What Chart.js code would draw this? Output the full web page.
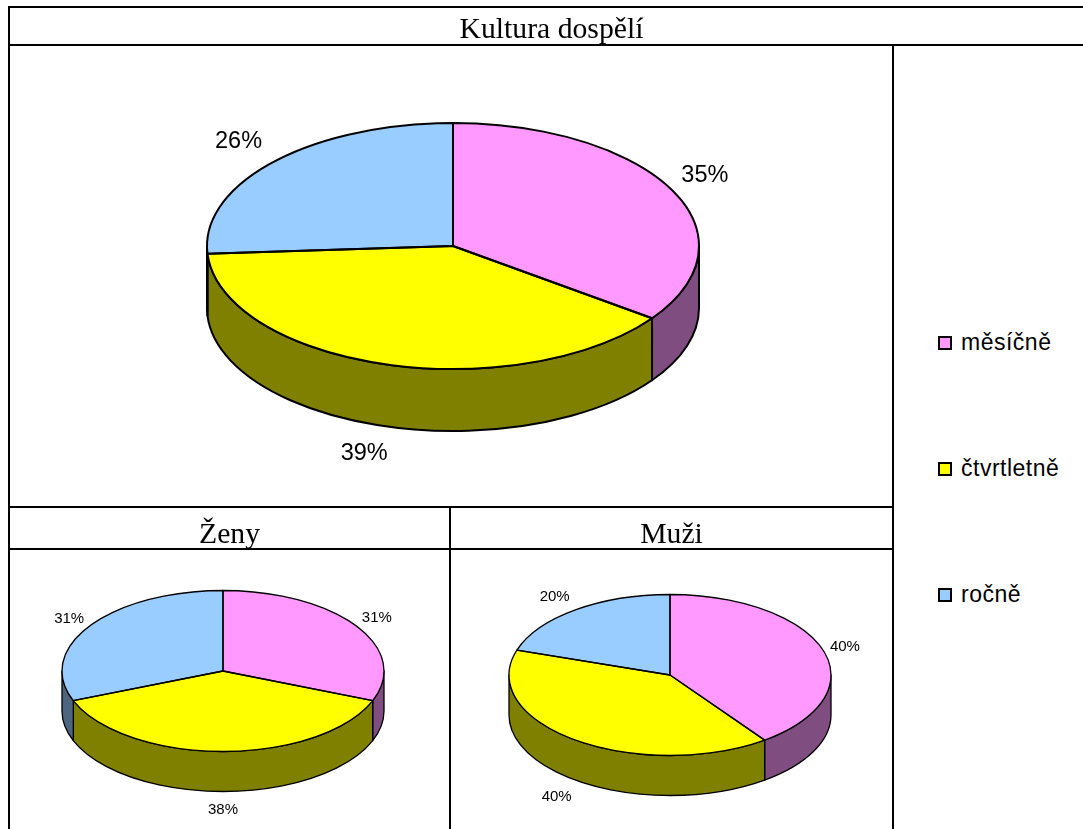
<!DOCTYPE html>
<html lang="cs">
<head>
<meta charset="utf-8">
<title>Kultura dospělí</title>
<script src="https://cdn.jsdelivr.net/npm/chart.js@4"></script>
<style>
html,body{margin:0;padding:0;background:#fff;}
body{position:relative;width:1083px;height:829px;overflow:hidden;}
canvas{position:absolute;display:block;}
.ln{position:absolute;background:#000;z-index:3;}
.ttl{position:absolute;font-family:"Liberation Serif",serif;font-size:29.7px;line-height:34px;text-align:center;color:#000;white-space:nowrap;z-index:4;}
.lg{position:absolute;left:938px;font-family:"Liberation Sans",sans-serif;font-size:23px;line-height:26px;letter-spacing:.5px;color:#000;white-space:nowrap;z-index:4;}
.lg i{display:inline-block;width:10px;height:10px;border:2px solid #000;position:absolute;left:0;top:7px;}
.lg span{position:absolute;left:23px;top:0;}
</style>
</head>
<body>
<div class="ln" style="left:8px;top:6px;width:1075px;height:2px"></div>
<div class="ln" style="left:8px;top:44px;width:1075px;height:2px"></div>
<div class="ln" style="left:8px;top:6px;width:2px;height:823px"></div>
<div class="ln" style="left:892px;top:44px;width:2px;height:785px"></div>
<div class="ln" style="left:8px;top:506px;width:884px;height:2px"></div>
<div class="ln" style="left:8px;top:548px;width:884px;height:2px"></div>
<div class="ln" style="left:449px;top:506px;width:2px;height:323px"></div>
<div class="ttl" id="t0" style="left:10px;width:1083px;top:11px"></div>
<div class="ttl" id="t1" style="left:10px;width:439px;top:516px"></div>
<div class="ttl" id="t2" style="left:451px;width:441px;top:516px"></div>

<canvas id="c0" width="600" height="492" style="left:153px;top:0"></canvas>
<canvas id="c1" width="420" height="322" style="left:13px;top:510px"></canvas>
<canvas id="c2" width="420" height="322" style="left:460px;top:514px"></canvas>

<script>
const categories = ['měsíčně', 'čtvrtletně', 'ročně'];
const dospeliValues = [35, 39, 26];
const zenyValues = [31, 38, 31];
const muziValues = [40, 40, 20];
const titles = ['Kultura dospělí', 'Ženy', 'Muži'];
const faceColors = ['#FF99FF', '#FFFF00', '#99CCFF'];
const wallColors = ['#804D80', '#808000', '#4D6680'];

const squash = 0.5;

const pie3d = {
  id: 'pie3d',
  beforeDatasetsDraw(chart, args, o) {
    const ctx = chart.ctx;
    const arcs = chart.getDatasetMeta(0).data;
    ctx.save();
    ctx.lineWidth = o.line;
    ctx.strokeStyle = '#000';
    ctx.lineJoin = 'round';
    arcs.forEach((el, i) => {
      const a = Math.max(el.startAngle, 0), b = Math.min(el.endAngle, Math.PI);
      if (b <= a) return;
      const rx = el.outerRadius, ry = rx * squash;
      ctx.beginPath();
      ctx.ellipse(el.x, el.y, rx, ry, 0, a, b);
      ctx.ellipse(el.x, el.y + o.depth, rx, ry, 0, b, a, true);
      ctx.closePath();
      ctx.fillStyle = wallColors[i];
      ctx.fill();
      ctx.stroke();
    });
    ctx.restore();
    const c = arcs[0];
    ctx.save();
    ctx.translate(c.x, c.y);
    ctx.scale(1, squash);
    ctx.translate(-c.x, -c.y);
  },
  afterDatasetsDraw(chart, args, o) {
    const ctx = chart.ctx;
    ctx.restore();
    const arcs = chart.getDatasetMeta(0).data;
    const vals = chart.data.datasets[0].data;
    ctx.save();
    ctx.lineWidth = o.line;
    ctx.strokeStyle = '#000';
    ctx.lineJoin = 'round';
    arcs.forEach(el => {
      const rx = el.outerRadius, ry = rx * squash;
      ctx.beginPath();
      ctx.moveTo(el.x, el.y);
      ctx.ellipse(el.x, el.y, rx, ry, 0, el.startAngle, el.endAngle);
      ctx.closePath();
      ctx.stroke();
    });
    ctx.fillStyle = '#000';
    ctx.font = o.font + 'px "Liberation Sans", sans-serif';
    ctx.textAlign = 'center';
    ctx.textBaseline = 'middle';
    arcs.forEach((el, i) => {
      const m = (el.startAngle + el.endAngle) / 2;
      const rx = el.outerRadius + o.padX, ry = el.outerRadius * squash + o.padY;
      const x = el.x + rx * Math.cos(m) + o.nudge[i][0];
      let y = el.y + ry * Math.sin(m) + o.nudge[i][1];
      if (Math.sin(m) > 0.5) y += o.depth;
      ctx.fillText(vals[i] + '%', x, y);
    });
    ctx.restore();
  }
};

function makePie(id, values, opts) {
  return new Chart(document.getElementById(id), {
    type: 'pie',
    data: { labels: categories, datasets: [{ data: values, backgroundColor: faceColors, borderWidth: 0 }] },
    plugins: [pie3d],
    options: {
      responsive: false,
      animation: false,
      layout: { padding: 0 },
      plugins: { legend: { display: false }, tooltip: { enabled: false }, pie3d: opts }
    }
  });
}

makePie('c0', dospeliValues, { depth: 62, line: 2, font: 23.5, padX: 40, padY: 33, nudge: [[-3, 0], [-9, -4], [-6, 2]] });
makePie('c1', zenyValues, { depth: 40, line: 1.3, font: 15, padX: 25, padY: 18, nudge: [[0, 2], [0, 0], [0, 3]] });
makePie('c2', muziValues, { depth: 40, line: 1.3, font: 15, padX: 25, padY: 18, nudge: [[-2, 2], [-4, 2], [-6, 2]] });

titles.forEach((t, i) => { document.getElementById('t' + i).textContent = t; });

const legendTops = [329, 455, 581];
categories.forEach((c, i) => {
  const d = document.createElement('div');
  d.className = 'lg';
  d.style.top = legendTops[i] + 'px';
  const sw = document.createElement('i');
  sw.style.background = faceColors[i];
  const s = document.createElement('span');
  s.textContent = c;
  d.append(sw, s);
  document.body.appendChild(d);
});
</script>
</body>
</html>
